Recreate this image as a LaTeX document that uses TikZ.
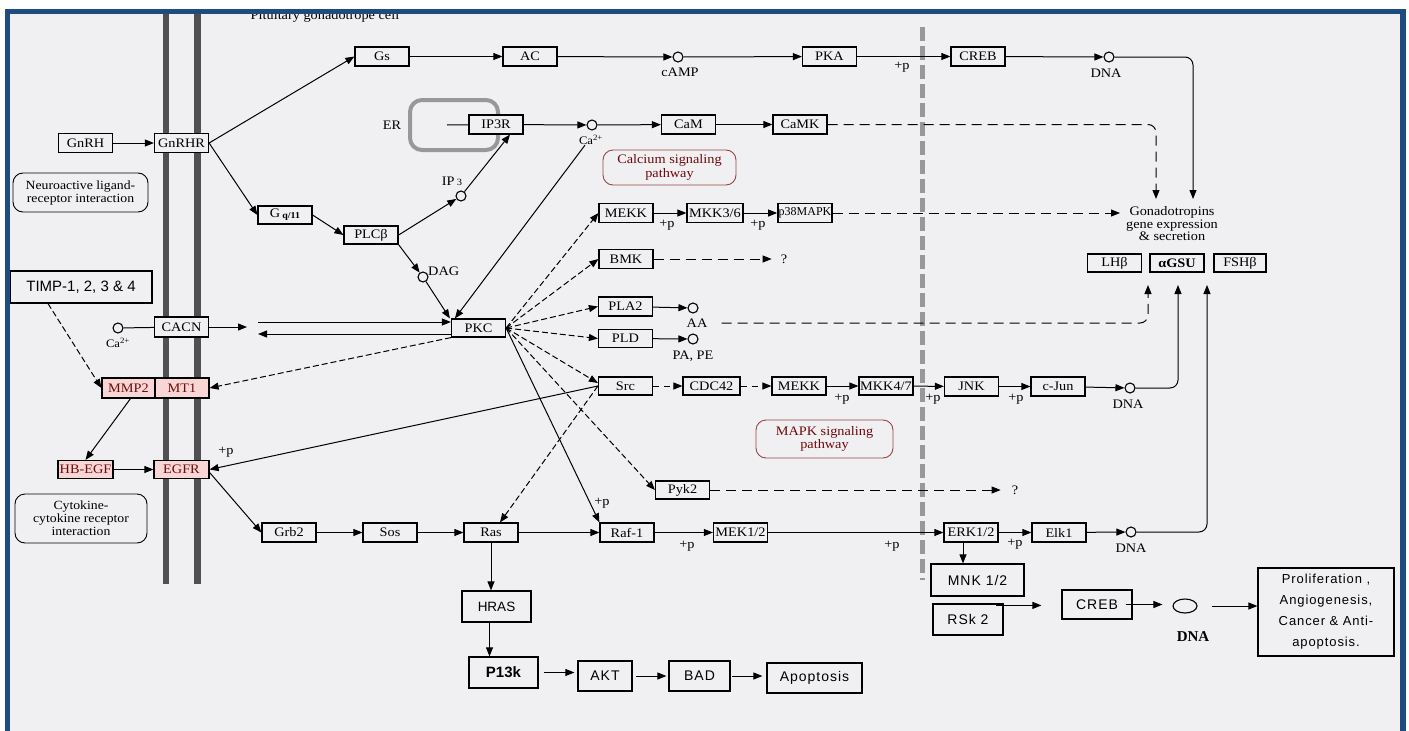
\documentclass[tikz,border=0pt]{standalone}
\usepackage{fontspec}
\setmainfont{Liberation Serif}
\newfontfamily\kegg{Liberation Serif}[FakeStretch=1.1]
\newfontfamily\sansf{Liberation Sans}
\newfontfamily\sanssp{Liberation Sans}[LetterSpace=7]
\usetikzlibrary{arrows.meta,calc,shapes.geometric}
\definecolor{bg}{RGB}{240,239,242}
\definecolor{frameblue}{RGB}{31,76,128}
\definecolor{membr}{RGB}{80,80,82}
\definecolor{dgrey}{RGB}{152,152,154}
\definecolor{pinkf}{RGB}{248,214,214}
\definecolor{dred}{RGB}{110,10,10}
\definecolor{pathred}{RGB}{150,70,70}
\begin{document}
\begin{tikzpicture}[x=1pt,y=-1pt,
 every node/.style={font=\kegg\fontsize{13}{13}\selectfont},
 gb/.style={draw, fill=bg, line width=1.2pt, minimum width=54pt, minimum height=19pt, inner sep=0pt},
 pk/.style={gb, fill=pinkf, text=dred},
 sb/.style={draw, fill=bg, line width=1.2pt, inner sep=0pt, font=\sanssp\fontsize{14}{15}\selectfont},
 rb/.style={draw, rounded corners=10pt, line width=0.9pt, inner sep=0pt, align=center, font=\kegg\fontsize{12.5}{13}\selectfont},
 cir/.style={draw, circle, line width=1.1pt, minimum size=10pt, inner sep=0pt},
 lbl/.style={inner sep=0pt, font=\kegg\fontsize{13}{13}\selectfont},
 arr/.style={line width=1pt, -{Triangle[length=9pt,width=7pt]}},
 dsh/.style={arr, dash pattern=on 10pt off 6pt},
 dd/.style={arr, dash pattern=on 6pt off 3pt},
 ln/.style={line width=1pt},
]
\useasboundingbox (0,0) rectangle (1409,731);
\fill[white] (0,0) rectangle (1409,731);
\fill[bg] (10,14) rectangle (1400,731);
\node[anchor=base, font=\kegg\fontsize{13}{13}\selectfont] (title) at (325,19.5) {Pituitary gonadotrope cell};

% membranes
\fill[membr] (163,14) rectangle (169,584);
\fill[membr] (194,14) rectangle (201,584);
\draw[dgrey, line width=5pt, dash pattern=on 14pt off 5pt] (922,27) -- (922,580);

% ER
\node[draw=dgrey, line width=4pt, rounded corners=12pt, minimum width=88pt, minimum height=50pt] (ERbox) at (454,125) {};
\node[lbl] (ERl) at (392,125) {ER};
\coordinate (erin) at (447,125);

% top row
\node[gb] (GnRH) at (85.5,143) {GnRH};
\node[gb] (GnRHR) at (181.5,143) {GnRHR};
\node[gb] (Gs) at (382,56.5) {Gs};
\node[gb] (AC) at (530,56.5) {AC};
\node[cir] (cAMP) at (678,57) {};
\node[lbl] (cAMPl) at (680,72) {cAMP};
\node[gb] (PKA) at (829.5,56.5) {PKA};
\node[lbl] (p1) at (902,67) {+p};
\node[gb] (CREB) at (978,56.5) {CREB};
\node[cir] (DNAa) at (1109,57) {};
\node[lbl] (DNAal) at (1106,73) {DNA};

\node[gb] (IP3R) at (496,124.5) {IP3R};
\node[cir] (Ca) at (592,125) {};
\node[lbl, font=\kegg\fontsize{11.5}{11.5}\selectfont] (calab) at (591,140) {Ca\textsuperscript{2+}};
\node[gb] (CaM) at (688.5,124.5) {CaM};
\node[gb] (CaMK) at (800,124.5) {CaMK};
\node[rb, draw=pathred, text=dred, minimum width=133pt, minimum height=35pt, font=\kegg\fontsize{13}{14}\selectfont] (calc) at (669.5,167.5) {Calcium signaling\\pathway};

\node[cir] (IP3) at (461,196) {};
\node[lbl] (IP3l) at (452,181) {IP\,{\fontsize{9.5}{9.5}\selectfont 3}};
\node[gb, minimum height=18pt] (Gq) at (285,215) {G\,\raisebox{-1pt}{\fontsize{9}{9}\selectfont\bfseries q/11}};
\node[gb, minimum height=18pt] (PLCb) at (371,235) {PLCβ};
\node[cir] (DAG) at (423,277) {};
\node[lbl, anchor=west] (DAGl) at (428,271) {DAG};
\node[rb, minimum width=135pt, minimum height=39pt] (neuro) at (80.5,192.5) {Neuroactive ligand-\\receptor interaction};

\node[gb] (MEKKa) at (626,213) {MEKK};
\node[gb, minimum width=56pt] (MKK36) at (715,213) {MKK3/6};
\node[gb, line width=1.7pt] (p38) at (805,213) {\rmfamily\fontsize{12}{12}\selectfont p38MAPK};
\node[lbl] (p2) at (667,225) {+p};
\node[lbl] (p3) at (758,225) {+p};

\node[lbl, align=center, font=\kegg\fontsize{13}{12.5}\selectfont] (gono) at (1172,224) {Gonadotropins\\gene expression\\\& secretion};
\node[gb, minimum height=18pt] (LHb) at (1114.5,263) {LHβ};
\node[gb, minimum height=18pt, font=\kegg\bfseries\fontsize{13}{13}\selectfont] (aGSU) at (1177,263) {αGSU};
\node[gb, minimum height=18pt, minimum width=52pt] (FSHb) at (1240,263) {FSHβ};

\node[gb] (BMK) at (626,259) {BMK};
\node[lbl] (qa) at (784,259) {?};
\node[gb] (PLA2) at (625.5,306.5) {PLA2};
\node[cir] (AA) at (693,308) {};
\node[lbl] (AAl) at (697,323) {AA};
\node[gb, minimum height=18pt] (PLD) at (625.5,338.5) {PLD};
\node[cir] (PAPE) at (693,339) {};
\node[lbl] (PAPEl) at (693,356) {PA, PE};

\node[gb, minimum height=18pt] (PKC) at (478.5,328) {PKC};
\node[gb, minimum height=20pt] (CACN) at (181.5,327) {CACN};
\node[cir] (Cal) at (118,328) {};
\node[lbl, font=\kegg\fontsize{11.5}{11.5}\selectfont] (Call) at (118,343) {Ca\textsuperscript{2+}};
\node[sb, minimum width=142pt, minimum height=32pt, font=\sansf\fontsize{15}{15}\selectfont] (TIMP) at (81,287) {TIMP-1, 2, 3 \& 4};

\node[pk, minimum width=53pt, minimum height=20pt] (MMP2) at (128.5,388) {MMP2};
\node[pk, minimum height=20pt] (MT1) at (182,388) {MT1};
\node[pk, minimum height=18pt, minimum width=55pt] (HBEGF) at (85.5,469.5) {HB-EGF};
\node[pk, minimum height=18pt, minimum width=55pt] (EGFR) at (181.5,469.5) {EGFR};
\node[lbl] (p4) at (226,452) {+p};
\node[rb, minimum width=132pt, minimum height=49pt] (cyto) at (81,518.5) {Cytokine-\\cytokine receptor\\interaction};

\node[gb, minimum height=18pt] (Src) at (625.5,386) {Src};
\node[gb, minimum height=18pt, minimum width=57pt] (CDC42) at (711.5,386) {CDC42};
\node[gb, minimum height=18pt] (MEKKb) at (799,386) {MEKK};
\node[gb, minimum height=18pt] (MKK47) at (886,386) {MKK4/7};
\node[lbl] (p5) at (842,399) {+p};
\node[gb] (JNK) at (971.5,386.5) {JNK};
\node[lbl] (p6) at (933,399) {+p};
\node[gb] (cJun) at (1058,386.5) {c-Jun};
\node[lbl] (p7) at (1016,399) {+p};
\node[cir] (DNAb) at (1130,388) {};
\node[lbl] (DNAbl) at (1128,404) {DNA};
\node[rb, draw=pathred, text=dred, minimum width=137pt, minimum height=38pt, font=\kegg\fontsize{13}{13}\selectfont] (mapk) at (824.5,439) {MAPK signaling\\pathway};

\node[gb, minimum height=18pt] (Pyk2) at (682.5,490) {Pyk2};
\node[lbl] (qb) at (1015,490) {?};

\node[gb] (Grb2) at (289,532.5) {Grb2};
\node[gb] (Sos) at (390,532.5) {Sos};
\node[gb] (Ras) at (491,532.5) {Ras};
\node[gb] (Raf1) at (627,532.5) {Raf-1};
\node[lbl] (p8) at (602,503) {+p};
\node[gb] (MEK12) at (740.5,532.5) {MEK1/2};
\node[lbl] (p9) at (687,546) {+p};
\node[lbl] (p10) at (892,546) {+p};
\node[gb] (ERK12) at (971,532.5) {ERK1/2};
\node[lbl] (p11) at (1015,544) {+p};
\node[gb] (Elk1) at (1059,532.5) {Elk1};
\node[cir] (DNAc) at (1131,532) {};
\node[lbl] (DNAcl) at (1131,548) {DNA};

\node[sb, minimum width=69pt, minimum height=31pt, font=\sansf\fontsize{13.5}{14}\selectfont] (HRAS) at (496.5,606.5) {HRAS};
\node[sb, minimum width=69pt, minimum height=31pt, font=\sansf\bfseries\fontsize{15}{15}\selectfont] (P13k) at (503.5,672.5) {P13k};
\node[sb, minimum width=54pt, minimum height=30pt] (AKT) at (605,676) {AKT};
\node[sb, minimum width=61pt, minimum height=30pt] (BAD) at (699.5,676) {BAD};
\node[sb, minimum width=95pt, minimum height=30pt] (Apop) at (814.5,678) {Apoptosis};

\node[sb, minimum width=93pt, minimum height=32pt] (MNK) at (977.5,580) {MNK 1/2};
\node[sb, minimum width=70pt, minimum height=31pt] (RSk) at (968,619.5) {RSk 2};
\node[sb, minimum width=70pt, minimum height=29pt] (CREBb) at (1097,604.5) {CREB};
\node[draw, ellipse, line width=1.1pt, minimum width=24pt, minimum height=14pt, inner sep=0pt] (DNAd) at (1185,606) {};
\node[lbl, font=\bfseries\fontsize{15}{15}\selectfont] (DNAdl) at (1193,637) {DNA};
\node[sb, minimum width=136pt, minimum height=88pt, align=center, font=\sanssp\fontsize{13}{21}\selectfont] (prolif) at (1326,612) {Proliferation ,\\Angiogenesis,\\Cancer \& Anti-\\apoptosis.};

% coordinates for free ends
\coordinate (gA) at (1156,199);
\coordinate (gB) at (1193,199);
\coordinate (gC) at (1120,213);
\coordinate (uA) at (1148,285);
\coordinate (uB) at (1178,285);
\coordinate (uC) at (1207,285);
\coordinate (cacnEnd) at (247,327);
\coordinate (dl1) at (258,322);
\coordinate (dl2) at (258,334);

% connectors
\draw[arr] (GnRH) -- (GnRHR);
\draw[arr] (GnRHR.east) -- (Gs.west);
\draw[arr] (GnRHR.east) -- (Gq.west);
\draw[arr] (Gq.east) -- (PLCb.west);
\draw[arr] (PLCb.east) -- (IP3);
\draw[arr] (IP3) -- ([xshift=14pt]IP3R.south);
\draw[arr] (PLCb.south east) -- (DAG);
\draw[arr] (DAG) -- ([xshift=-1pt]PKC.north west);
\draw[arr] ([xshift=-6pt]calab.south) -- ([xshift=4pt]PKC.north west);

\draw[arr] (Gs) -- (AC);
\draw[arr] (AC) -- (cAMP);
\draw[arr] (cAMP) -- (PKA);
\draw[arr] (PKA) -- (CREB);
\draw[arr] (CREB) -- (DNAa);
\draw[arr, rounded corners=8pt] (DNAa) -- (DNAa -| gB) -- (gB);

\draw[ln] (erin) -- (IP3R);
\draw[arr] (IP3R) -- (Ca);
\draw[arr] (Ca) -- (CaM);
\draw[arr] (CaM) -- (CaMK);
\draw[dsh, rounded corners=8pt] (CaMK) -- (CaMK -| gA) -- (gA);

\draw[arr] (MEKKa) -- (MKK36);
\draw[arr] (MKK36) -- (p38);
\draw[dsh] (p38) -- (gC);
\draw[dsh, shorten >=9pt] (BMK) -- (qa);
\draw[arr] (PLA2) -- (AA);
\draw[arr] (PLD) -- (PAPE);
\draw[dsh, rounded corners=8pt, shorten <=14pt] (AAl.east) -- (AAl.east -| uA) -- (uA);
\draw[arr, rounded corners=8pt] (DNAb) -- (DNAb -| uB) -- (uB);
\draw[arr, rounded corners=8pt] (DNAc) -- (DNAc -| uC) -- (uC);

\draw[dd] (PKC.east) -- (MEKKa.west);
\draw[dd] (PKC.east) -- (BMK.west);
\draw[dd] (PKC.east) -- (PLA2.west);
\draw[dd] (PKC.east) -- (PLD.west);
\draw[dd] (PKC.east) -- ([yshift=3pt]Src.west);
\draw[dd] (PKC.east) -- (Pyk2.west);
\draw[arr] (PKC.east) -- (Raf1.north west);
\draw[dd] (Src.west) -- ([xshift=9pt]Ras.north);
\draw[arr] (Src.west) -- (EGFR.east);
\draw[dd] (PKC.south west) -- (MT1.east);
\draw[dd] ([xshift=-33pt]TIMP.south) -- (MMP2.west);
\draw[arr] ([xshift=2pt]MMP2.south) -- (HBEGF.north);
\draw[arr] (HBEGF) -- (EGFR);
\draw[arr] ([yshift=-3pt]EGFR.east) -- (Grb2.west);

\draw[ln] (Cal) -- (CACN);
\draw[arr] (CACN) -- (cacnEnd);
\draw[arr] (dl1) -- (dl1 -| PKC.west);
\draw[arr] (dl2 -| PKC.west) -- (dl2);

\draw[dsh, dash pattern=on 6pt off 5pt] (Src) -- (CDC42);
\draw[dsh, dash pattern=on 6pt off 5pt] (CDC42) -- (MEKKb);
\draw[arr] (MEKKb) -- (MKK47);
\draw[arr] (MKK47) -- (JNK);
\draw[arr] (JNK) -- (cJun);
\draw[arr] (cJun) -- (DNAb);
\draw[dsh, shorten >=11pt] (Pyk2) -- (qb);

\draw[arr] (Grb2) -- (Sos);
\draw[arr] (Sos) -- (Ras);
\draw[arr] (Ras) -- (Raf1);
\draw[arr] (Raf1) -- (MEK12);
\draw[arr] (MEK12) -- (ERK12);
\draw[arr] (ERK12) -- (Elk1);
\draw[arr] (Elk1) -- (DNAc);
\draw[arr] (Ras.south) -- (Ras.south |- HRAS.north);
\draw[arr] ([xshift=-7pt]HRAS.south) -- ([xshift=-7pt]HRAS.south |- P13k.north);
\draw[arr, shorten <=5pt, shorten >=3pt] (P13k.east) -- (P13k.east -| AKT.west);
\draw[arr, shorten <=3pt, shorten >=2pt] (AKT.east) -- (BAD.west);
\draw[arr, shorten <=1pt, shorten >=4pt] (BAD.east) -- (BAD.east -| Apop.west);

\draw[arr] ([xshift=-8pt]ERK12.south) -- ([xshift=-8pt]ERK12.south |- MNK.north);
\draw[arr, shorten >=12pt] ([xshift=-8pt,yshift=-2pt]RSk.north east) -- ([xshift=-8pt,yshift=-2pt]RSk.north east -| CREBb.west);
\draw[arr, shorten >=10pt] ([xshift=-7pt]CREBb.east) -- (CREBb.east -| DNAd.west);
\draw[arr, shorten <=14pt] (DNAd.east) -- (DNAd.east -| prolif.west);

% frame
\fill[frameblue] (5,9) rectangle (1406,14);
\fill[frameblue] (5,9) rectangle (10,731);
\fill[frameblue] (1400,9) rectangle (1406,731);
\end{tikzpicture}
\end{document}
